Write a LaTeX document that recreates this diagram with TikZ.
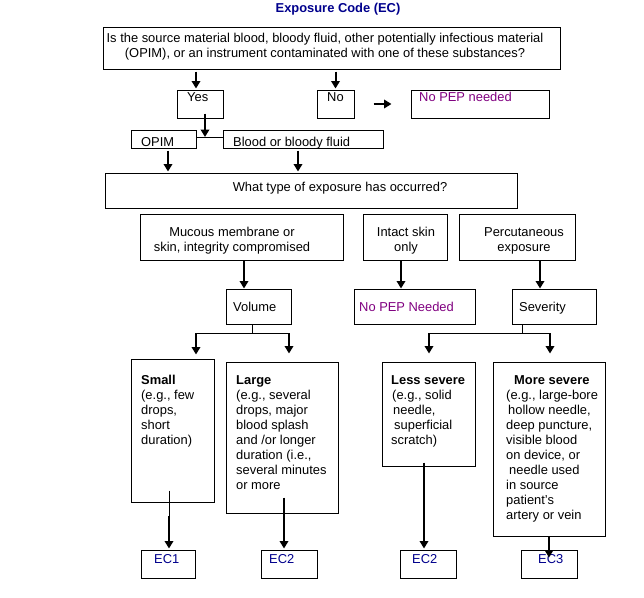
\documentclass[tikz,border=0pt]{standalone}
\usepackage{fontspec}
\setmainfont{Liberation Sans}
\usetikzlibrary{arrows.meta}
\definecolor{ecblue}{RGB}{0,0,140}
\definecolor{pepviolet}{RGB}{128,0,128}
\tikzset{
  box/.style={draw, line width=1pt, inner sep=0pt},
  txt/.style={anchor=north west, inner sep=0pt, align=left, font=\fontsize{12.9}{15}\selectfont},
  ctxt/.style={txt, anchor=north, align=center},
  arr/.style={line width=2pt, -{Triangle[length=7.5pt,width=8.5pt]}},
  link/.style={line width=1pt},
}
\begin{document}
\begin{tikzpicture}[x=1pt,y=-1pt]
        \useasboundingbox (0,0) rectangle (644,597);
        % title
        \node[ctxt, text=ecblue, font=\fontsize{12.9}{15}\selectfont\bfseries] (title) at (338,3) {Exposure Code (EC)};
        % boxes
        \node[box, minimum width=457pt, minimum height=42pt] (src) at (331.5,48) {};
        \node[box, minimum width=46pt, minimum height=28pt] (yes) at (200,104) {};
        \node[box, minimum width=37pt, minimum height=28pt] (no) at (335.5,104) {};
        \node[box, minimum width=138pt, minimum height=28pt] (nopep) at (480,104) {};
        \node[box, minimum width=65pt, minimum height=18pt] (opim) at (163.5,139) {};
        \node[box, minimum width=160pt, minimum height=18pt] (blood) at (303,139) {};
        \node[box, minimum width=412pt, minimum height=35pt] (what) at (311,190.5) {};
        \node[box, minimum width=203pt, minimum height=46pt] (mucous) at (241.5,237) {};
        \node[box, minimum width=84pt, minimum height=46pt] (intact) at (405,237) {};
        \node[box, minimum width=116pt, minimum height=46pt] (percut) at (517,237) {};
        \node[box, minimum width=65pt, minimum height=35pt] (volume) at (258.5,306.5) {};
        \node[box, minimum width=121pt, minimum height=35pt] (nopepb) at (414.5,306.5) {};
        \node[box, minimum width=84pt, minimum height=35pt] (severity) at (554,306.5) {};
        \node[box, minimum width=83pt, minimum height=143pt] (small) at (172.5,430.5) {};
        \node[box, minimum width=112pt, minimum height=151pt] (large) at (282,437.5) {};
        \node[box, minimum width=93pt, minimum height=104pt] (less) at (428.5,414) {};
        \node[box, minimum width=112pt, minimum height=174pt] (more) at (549,449) {};
        \node[box, minimum width=54pt, minimum height=28pt] (econe) at (168,564) {};
        \node[box, minimum width=56pt, minimum height=28pt] (ectwoa) at (289,564) {};
        \node[box, minimum width=56pt, minimum height=28pt] (ectwob) at (428,564) {};
        \node[box, minimum width=56pt, minimum height=28pt] (ecthree) at (549,564) {};
        % texts
        \node[ctxt] (srctext) at (325,33) {Is the source material blood, bloody fluid, other potentially infectious material\\(OPIM), or an instrument contaminated with one of these substances?};
        \node[txt] (yestext) at (187,92) {Yes};
        \node[txt] (notext) at (327,92) {No};
        \node[txt, text=pepviolet] (nopeptext) at (419,92) {No PEP needed};
        \node[txt] (opimtext) at (141,137) {OPIM};
        \node[txt] (bloodtext) at (233,137) {Blood or bloody fluid};
        \node[ctxt] (whattext) at (340,182) {What type of exposure has occurred?};
        \node[ctxt] (mucoustext) at (232,227) {Mucous membrane or\\skin, integrity compromised};
        \node[ctxt] (intacttext) at (406,227) {Intact skin\\only};
        \node[ctxt] (percuttext) at (524,227) {Percutaneous\\exposure};
        \node[txt] (volumetext) at (233,302) {Volume};
        \node[txt, text=pepviolet] (nopepbtext) at (359,302) {No PEP Needed};
        \node[txt] (severitytext) at (519,302) {Severity};
        \node[txt] (smalltext) at (141,375) {\textbf{Small}\\(e.g., few\\drops,\\short\\duration)};
        \node[txt] (largetext) at (236,375) {\textbf{Large}\\(e.g., several\\drops, major\\blood splash\\and /or longer\\duration (i.e.,\\several minutes\\or more};
        \node[txt] (lesstext) at (391,375) {\textbf{Less severe}\\\hspace*{1pt}(e.g., solid\\\hspace*{2pt}needle,\\\hspace*{3pt}superficial\\scratch)};
        \node[txt] (moretext) at (506,375) {\hspace*{8pt}\textbf{More severe}\\(e.g., large-bore\\\hspace*{2pt}hollow needle,\\deep puncture,\\visible blood\\on device, or\\\hspace*{3pt}needle used\\in source\\patient\char39 s\\artery or vein};
        \node[txt, text=ecblue] (econetext) at (154,554) {EC1};
        \node[txt, text=ecblue] (ectwoatext) at (269,554) {EC2};
        \node[txt, text=ecblue] (ectwobtext) at (412,554) {EC2};
        \node[txt, text=ecblue] (ecthreetext) at (538,554) {EC3};
        % split points
        \coordinate (ysplit) at (205,137);
        \coordinate (vsplit) at (252,333);
        \coordinate (ssplit) at (522,333);
        % connectors
        \draw[arr, shorten <=2pt, shorten >=1pt] (src.south -| 196,0) -- (yes.north -| 196,0);
        \draw[arr, shorten <=2pt, shorten >=1pt] (src.south -| no.north) -- (no.north);
        \draw[arr, shorten <=19pt, shorten >=19pt] (no.east) -- (nopep.west);
        \draw[arr] (yes.south -| ysplit) ++(0,-5) -- (ysplit);
        \draw[link] (opim.east |- ysplit) -- (blood.west |- ysplit);
        \draw[arr, shorten <=2pt, shorten >=1pt] (opim.south -| 168,0) -- (what.north -| 168,0);
        \draw[arr, shorten <=2pt, shorten >=1pt] (blood.south -| 298,0) -- (what.north -| 298,0);
        \draw[arr] (mucous.south -| 244,0) -- (volume.north -| 244,0);
        \draw[arr] (intact.south -| 401,0) -- (nopepb.north -| 401,0);
        \draw[arr] (percut.south -| 540,0) -- (severity.north -| 540,0);
        \draw[link] (volume.south -| vsplit) -- (vsplit);
        \draw[link] (vsplit -| 196,0) -- (vsplit -| 289,0);
        \draw[arr, shorten >=4pt] (vsplit -| 196,0) -- (small.north -| 196,0);
        \draw[arr, shorten >=8pt] (vsplit -| 289,0) -- (large.north -| 289,0);
        \draw[link] (severity.south -| ssplit) -- (ssplit);
        \draw[link] (ssplit -| 429,0) -- (ssplit -| 550,0);
        \draw[arr, shorten >=8pt] (ssplit -| 429,0) -- (less.north -| 429,0);
        \draw[arr, shorten >=8pt] (ssplit -| 550,0) -- (more.north -| 550,0);
        \draw[link] (small.south -| 169,0) ++(0,-12) -- ++(0,25) coordinate (smallend);
        \draw[arr, shorten >=1pt] (smallend) -- (econe.north -| smallend);
        \draw[arr, shorten >=1pt] (large.south -| 284,0) ++(0,-16) -- (ectwoa.north -| 284,0);
        \draw[arr, shorten >=1pt] (less.south -| 424,0) ++(0,-4) -- (ectwob.north -| 424,0);
        \draw[arr] (more.south -| 549,0) -- ++(0,21);
\end{tikzpicture}
\end{document}
